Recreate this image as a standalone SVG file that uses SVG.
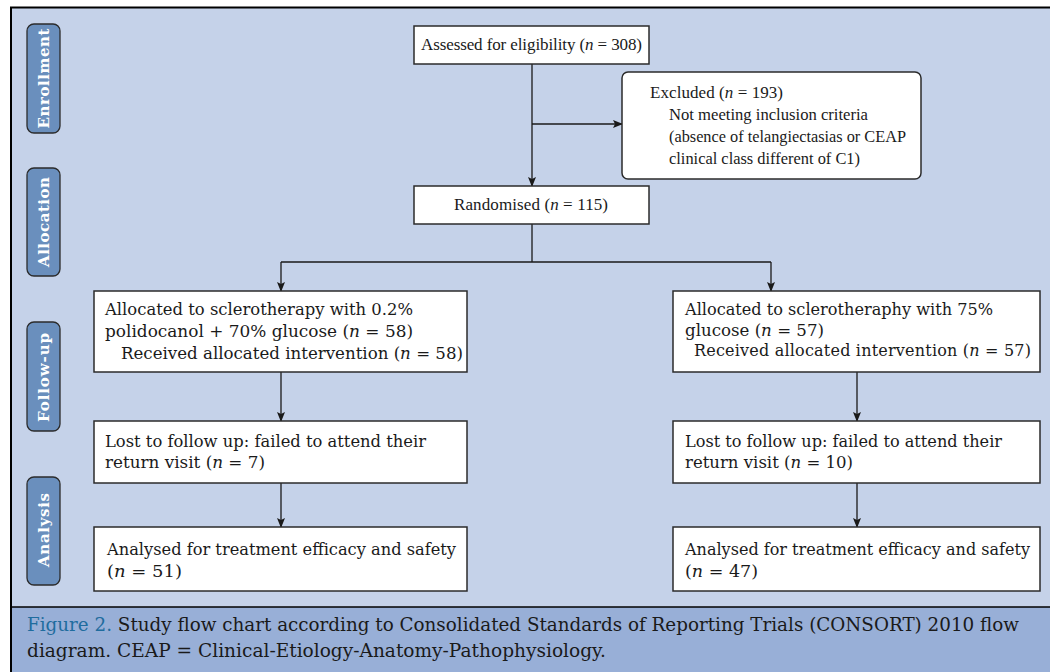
<svg xmlns="http://www.w3.org/2000/svg" width="1050" height="672" viewBox="0 0 1050 672">
<defs>
<marker id="arr" markerWidth="10" markerHeight="10" refX="9" refY="5" orient="auto" markerUnits="userSpaceOnUse">
<path d="M0,1 L10,5 L0,9 L2,5 Z" fill="#1a1a1a"/>
</marker>
<style>
.box{fill:#ffffff;stroke:#2b2b2b;stroke-width:1.5}
.lab{fill:#6a8fbd;stroke:#2b2b2b;stroke-width:1.3}
.lt{font-family:"DejaVu Serif",serif;font-weight:bold;font-size:15px;fill:#ffffff;text-anchor:middle}
.t{font-family:"Liberation Serif",serif;font-size:17px;fill:#1a1a1a}
.w{font-family:"DejaVu Serif",serif;font-size:16.5px;fill:#1a1a1a}
.cap{font-family:"DejaVu Serif",serif;font-size:18.5px;fill:#1a1a1a}
.c{fill:none;stroke:#1a1a1a;stroke-width:1.3}
.it{font-style:italic}
</style>
</defs>
<rect x="0" y="0" width="1050" height="672" fill="#ffffff"/>
<rect x="11" y="8" width="1039" height="599" fill="#c5d2e9"/>
<rect x="11" y="607" width="1039" height="65" fill="#98afd7"/>
<path d="M11,672 L11,7.5 L1050,7.5" fill="none" stroke="#000" stroke-width="2"/>
<line x1="11" y1="607" x2="1050" y2="607" stroke="#000" stroke-width="1.5"/>

<g id="label-enrollment"><rect class="lab" x="27" y="24" width="33" height="109" rx="7"/><text class="lt" transform="translate(49,78.5) rotate(-90)" textLength="100">Enrollment</text></g>
<g id="label-allocation"><rect class="lab" x="27" y="168" width="33" height="108" rx="7"/><text class="lt" transform="translate(49,222) rotate(-90)" textLength="90">Allocation</text></g>
<g id="label-followup"><rect class="lab" x="27" y="322" width="33" height="109" rx="7"/><text class="lt" transform="translate(49,377.5) rotate(-90)" textLength="89">Follow-up</text></g>
<g id="label-analysis"><rect class="lab" x="27" y="477" width="33" height="108" rx="7"/><text class="lt" transform="translate(49,530) rotate(-90)" textLength="74">Analysis</text></g>

<g id="connectors">
<line class="c" x1="532" y1="64" x2="532" y2="186" marker-end="url(#arr)"/>
<line class="c" x1="532" y1="124" x2="622" y2="124" marker-end="url(#arr)"/>
<path class="c" d="M532,224 L532,262 M281,262 L771,262"/>
<line class="c" x1="281" y1="262" x2="281" y2="291" marker-end="url(#arr)"/>
<line class="c" x1="771" y1="262" x2="771" y2="291" marker-end="url(#arr)"/>
<line class="c" x1="281" y1="372" x2="281" y2="421" marker-end="url(#arr)"/>
<line class="c" x1="281" y1="483" x2="281" y2="527" marker-end="url(#arr)"/>
<line class="c" x1="857" y1="372" x2="857" y2="421" marker-end="url(#arr)"/>
<line class="c" x1="857" y1="483" x2="857" y2="527" marker-end="url(#arr)"/>
</g>

<g id="assessed"><rect class="box" x="414" y="26" width="235" height="38"/>
<text class="t" x="421" y="49.5" textLength="221">Assessed for eligibility (<tspan class="it">n</tspan> = 308)</text></g>

<g id="excluded"><rect class="box" x="622" y="72" width="299" height="107" rx="6"/>
<text class="t" x="650" y="98" textLength="133">Excluded (<tspan class="it">n</tspan> = 193)</text>
<text class="t" x="669" y="120" textLength="199" lengthAdjust="spacingAndGlyphs">Not meeting inclusion criteria</text>
<text class="t" x="669" y="142" textLength="237" lengthAdjust="spacingAndGlyphs">(absence of telangiectasias or CEAP</text>
<text class="t" x="669" y="164" textLength="191" lengthAdjust="spacingAndGlyphs">clinical class different of C1)</text></g>

<g id="randomised"><rect class="box" x="414" y="186" width="235" height="38"/>
<text class="t" x="454" y="210" textLength="154">Randomised (<tspan class="it">n</tspan> = 115)</text></g>

<g id="alloc-left"><rect class="box" x="94" y="291" width="373" height="81"/>
<text class="w" x="105" y="315" textLength="308" lengthAdjust="spacingAndGlyphs">Allocated to sclerotherapy with 0.2%</text>
<text class="w" x="105" y="337" textLength="308" lengthAdjust="spacingAndGlyphs">polidocanol + 70% glucose (<tspan class="it">n</tspan> = 58)</text>
<text class="w" x="121" y="359" textLength="342" lengthAdjust="spacingAndGlyphs">Received allocated intervention (<tspan class="it">n</tspan> = 58)</text></g>

<g id="alloc-right"><rect class="box" x="673" y="291" width="367" height="81"/>
<text class="w" x="685" y="315" textLength="308" lengthAdjust="spacingAndGlyphs">Allocated to sclerotheraphy with 75%</text>
<text class="w" x="685" y="336" textLength="139" lengthAdjust="spacingAndGlyphs">glucose (<tspan class="it">n</tspan> = 57)</text>
<text class="w" x="694" y="356" textLength="337" style="font-size:16px">Received allocated intervention (<tspan class="it">n</tspan> = 57)</text></g>

<g id="lost-left"><rect class="box" x="94" y="421" width="373" height="62"/>
<text class="w" x="105" y="447" textLength="321" lengthAdjust="spacingAndGlyphs">Lost to follow up: failed to attend their</text>
<text class="w" x="105" y="468" textLength="160" lengthAdjust="spacingAndGlyphs">return visit (<tspan class="it">n</tspan> = 7)</text></g>

<g id="lost-right"><rect class="box" x="673" y="421" width="367" height="62"/>
<text class="w" x="685" y="447" textLength="317" lengthAdjust="spacingAndGlyphs">Lost to follow up: failed to attend their</text>
<text class="w" x="685" y="468" textLength="168" lengthAdjust="spacingAndGlyphs">return visit (<tspan class="it">n</tspan> = 10)</text></g>

<g id="analysed-left"><rect class="box" x="94" y="527" width="373" height="64"/>
<text class="w" x="107" y="555" textLength="349" lengthAdjust="spacingAndGlyphs">Analysed for treatment efficacy and safety</text>
<text class="w" x="107" y="577" textLength="75" lengthAdjust="spacingAndGlyphs">(<tspan class="it">n</tspan> = 51)</text></g>

<g id="analysed-right"><rect class="box" x="673" y="527" width="367" height="64"/>
<text class="w" x="685" y="555" textLength="345" lengthAdjust="spacingAndGlyphs">Analysed for treatment efficacy and safety</text>
<text class="w" x="685" y="577" textLength="73" lengthAdjust="spacingAndGlyphs">(<tspan class="it">n</tspan> = 47)</text></g>

<g id="caption">
<text class="cap" x="27" y="631" textLength="992" lengthAdjust="spacingAndGlyphs"><tspan fill="#1f6c9e">Figure 2.</tspan> Study flow chart according to Consolidated Standards of Reporting Trials (CONSORT) 2010 flow</text>
<text class="cap" x="27" y="657" textLength="579" lengthAdjust="spacingAndGlyphs">diagram. CEAP = Clinical-Etiology-Anatomy-Pathophysiology.</text>
</g>
</svg>
